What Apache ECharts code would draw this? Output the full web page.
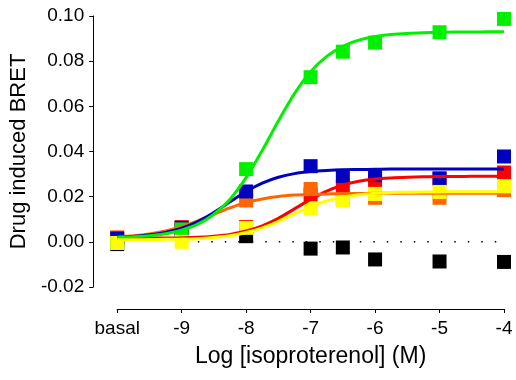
<!DOCTYPE html>
<html>
<head>
<meta charset="utf-8">
<script src="https://cdn.jsdelivr.net/npm/echarts@6/dist/echarts.min.js"></script>
<style>html,body{margin:0;padding:0;background:#fff;}#c{width:516px;height:380px;}</style>
</head>
<body>
<div id="c"></div>
<script>
// Tick labels
const xTickValues = [-10, -9, -8, -7, -6, -5, -4];
const xTickLabels = ['basal', '-9', '-8', '-7', '-6', '-5', '-4'];

// Measured doses (log M); basal drawn at -10
const doses = [-10, -9, -8, -7, -6.5, -6, -5, -4];
const blackPts  = [-0.0010, 0.0050, 0.0025, -0.0030, -0.0025, -0.0078, -0.0087, -0.0089];
const redPts    = [0.0012, 0.0065, 0.0066, 0.0210, 0.0243, 0.0274, 0.0281, 0.0307];
const orangePts = [0.0020, 0.0060, 0.0183, 0.0234, 0.0190, 0.0195, 0.0195, 0.0229];
const bluePts   = [0.0015, 0.0062, 0.0223, 0.0335, 0.0292, 0.0296, 0.0280, 0.0378];
const greenPts  = [-0.0005, 0.0055, 0.0322, 0.0729, 0.0842, 0.0882, 0.0928, 0.0987];
const yellowPts = [-0.0005, 0.0000, 0.0062, 0.0147, 0.0183, 0.0212, 0.0221, 0.0246];

// Fitted curves, every 0.25 log unit
const curveX = [-10,-9.75,-9.5,-9.25,-9,-8.75,-8.5,-8.25,-8,-7.75,-7.5,-7.25,-7,-6.75,-6.5,-6.25,-6,-5.75,-5.5,-5.25,-5,-4.75,-4.5,-4.25,-4];
const greenCurve  = [0.0019,0.0022,0.0027,0.0036,0.0052,0.0078,0.0122,0.0189,0.0284,0.0405,0.0535,0.0656,0.0753,0.0821,0.0866,0.0893,0.0909,0.0918,0.0923,0.0926,0.0928,0.0929,0.0929,0.0930,0.0930];
const blueCurve   = [0.0021,0.0024,0.0031,0.0042,0.0060,0.0090,0.0130,0.0177,0.0223,0.0260,0.0286,0.0302,0.0311,0.0316,0.0319,0.0320,0.0321,0.0322,0.0322,0.0322,0.0322,0.0322,0.0322,0.0322,0.0322];
const orangeCurve = [0.0023,0.0027,0.0035,0.0048,0.0067,0.0093,0.0122,0.0150,0.0174,0.0190,0.0201,0.0207,0.0210,0.0212,0.0214,0.0214,0.0215,0.0215,0.0215,0.0215,0.0215,0.0215,0.0215,0.0215,0.0215];
const redCurve    = [0.0015,0.0015,0.0016,0.0017,0.0018,0.0020,0.0025,0.0033,0.0048,0.0071,0.0104,0.0146,0.0188,0.0225,0.0251,0.0268,0.0278,0.0283,0.0286,0.0288,0.0289,0.0289,0.0290,0.0290,0.0290];
const yellowCurve = [0.0009,0.0009,0.0010,0.0011,0.0012,0.0014,0.0019,0.0027,0.0041,0.0062,0.0090,0.0124,0.0155,0.0181,0.0198,0.0208,0.0215,0.0218,0.0220,0.0221,0.0221,0.0222,0.0222,0.0222,0.0222];
const blackFitX = [-8.75, -4];
const blackFit  = [0, 0];

const colors = {black:'#000000', red:'#FF0000', orange:'#FF6600', blue:'#0000C0', green:'#00F000', yellow:'#FFFF00'};

function pairs(xs, ys){ return xs.map((x,i)=>[x, ys[i]]); }
function scatter(name, ys){
  return {type:'scatter', name, data:pairs(doses, ys), symbol:'rect', symbolSize:14,
    itemStyle:{color:colors[name], opacity:1}, z:2, silent:true};
}
function curve(name, ys){
  return {type:'line', name:name+'Fit', data:pairs(curveX, ys), showSymbol:false, symbol:'none',
    smooth:0.3, lineStyle:{color:colors[name], width:3}, z:3, silent:true};
}

const chart = echarts.init(document.getElementById('c'), null, {renderer:'canvas'});
chart.setOption({
  animation:false,
  grid:{left:116, right:12, top:16, bottom:93, containLabel:false},
  xAxis:{
    type:'value', min:-10, max:-4, interval:1, offset:22,
    name:'Log [isoproterenol] (M)', nameLocation:'middle', nameGap:36,
    nameTextStyle:{fontFamily:'Liberation Sans', fontSize:23, color:'#000'},
    axisLine:{show:true, onZero:false, lineStyle:{color:'#000', width:1}},
    axisTick:{show:true, length:4, lineStyle:{color:'#000'}},
    axisLabel:{fontFamily:'Liberation Sans', fontSize:19, color:'#000', margin:10,
      formatter:(v)=>{const i=xTickValues.indexOf(v); return i>=0?xTickLabels[i]:'';}},
    splitLine:{show:false}
  },
  yAxis:{
    type:'value', min:-0.02, max:0.10, interval:0.02, offset:24,
    name:'Drug induced BRET', nameLocation:'middle', nameGap:62, nameRotate:90,
    nameTextStyle:{fontFamily:'Liberation Sans', fontSize:22, color:'#000'},
    axisLine:{show:true, lineStyle:{color:'#000', width:1}},
    axisTick:{show:true, length:4, lineStyle:{color:'#000'}},
    axisLabel:{fontFamily:'Liberation Sans', fontSize:19, color:'#000', margin:9,
      formatter:(v)=>v.toFixed(2)},
    splitLine:{show:false}
  },
  series:[
    scatter('black', blackPts),
    scatter('red', redPts),
    scatter('orange', orangePts),
    scatter('blue', bluePts),
    scatter('green', greenPts),
    scatter('yellow', yellowPts),
    {type:'line', name:'blackFit', data:pairs(blackFitX, blackFit), showSymbol:false, symbol:'none',
      lineStyle:{color:'#000', width:1.5, type:[1.5, 12]}, z:3, silent:true},
    curve('red', redCurve),
    curve('orange', orangeCurve),
    curve('blue', blueCurve),
    curve('green', greenCurve),
    curve('yellow', yellowCurve)
  ]
});
</script>
</body>
</html>
